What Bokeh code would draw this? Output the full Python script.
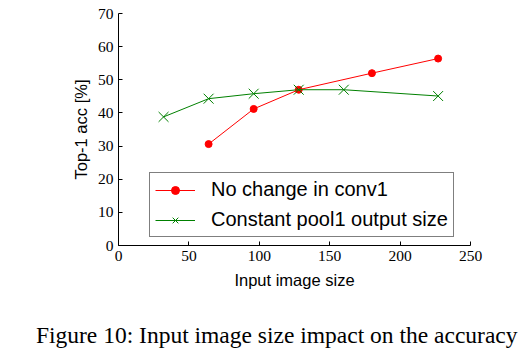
from bokeh.plotting import figure
from bokeh.models import Range1d, FixedTicker, Legend, LegendItem, Title
from bokeh.embed import file_html
from bokeh.resources import INLINE

# data
red_x = [64, 96, 128, 180, 227]
red_y = [30.6, 41.2, 47.0, 52.0, 56.4]
green_x = [32, 64, 96, 128, 160, 227]
green_y = [38.8, 44.3, 45.8, 47.0, 47.0, 45.1]
x_ticks = [0, 50, 100, 150, 200, 250]
y_ticks = [0, 10, 20, 30, 40, 50, 60, 70]
red_label = "No change in conv1"
green_label = "Constant pool1 output size"
caption = "Figure 10: Input image size impact on the accuracy"

p = figure(frame_width=352, frame_height=232, output_backend="svg",
           toolbar_location=None,
           x_range=Range1d(0, 250), y_range=Range1d(0, 70),
           min_border_left=118, min_border_right=57, min_border_top=13,
           min_border_bottom=0)
p.outline_line_color = None
p.grid.visible = False
p.background_fill_color = "white"
p.border_fill_color = "white"

for ax in (p.xaxis[0], p.yaxis[0]):
    ax.major_tick_in = 4
    ax.major_tick_out = 0
    ax.minor_tick_line_color = None
    ax.axis_line_color = "black"
    ax.major_tick_line_color = "black"
    ax.major_label_text_font = "Liberation Serif"
    ax.major_label_text_font_size = "15.5px"
    ax.major_label_text_color = "black"
    ax.axis_label_text_font = "Liberation Sans"
    ax.axis_label_text_font_size = "16.5px"
    ax.axis_label_text_font_style = "normal"
    ax.axis_label_text_color = "black"

p.xaxis.ticker = FixedTicker(ticks=x_ticks)
p.yaxis.ticker = FixedTicker(ticks=y_ticks)
p.xaxis.axis_label = "Input image size"
p.yaxis.axis_label = "Top-1 acc [%]"
p.xaxis.major_label_standoff = 5
p.yaxis.major_label_standoff = 5
p.xaxis.axis_label_standoff = 7
p.yaxis.axis_label_standoff = 5

rl = p.line(red_x, red_y, line_color="#ff0000", line_width=1)
rs = p.scatter(red_x, red_y, marker="circle", size=7, fill_color="#ff0000",
               line_color="#ff0000")
gl = p.line(green_x, green_y, line_color="#008000", line_width=1)
gs = p.scatter(green_x, green_y, marker="x", size=14, line_color="#008000",
               line_width=1)

legend = Legend(items=[LegendItem(label=red_label, renderers=[rl, rs]),
                       LegendItem(label=green_label, renderers=[gl, gs])],
                location=(31, 8))
legend.label_text_font = "Liberation Sans"
legend.label_text_font_size = "20px"
legend.label_text_color = "black"
legend.border_line_color = "black"
legend.border_line_width = 1
legend.border_radius = 0
legend.background_fill_alpha = 1
legend.glyph_width = 40
legend.glyph_height = 20
legend.label_height = 20
legend.label_standoff = 16
legend.spacing = 7
legend.padding = 5
legend.margin = 0
p.add_layout(legend, "center")

t = Title(text=caption, align="right", text_font="Liberation Serif",
          text_font_size="23.5px", text_font_style="normal", text_color="black",
          standoff=57, offset=-47)
p.add_layout(t, "below")

open("out.html", "w").write(file_html(p, INLINE))
